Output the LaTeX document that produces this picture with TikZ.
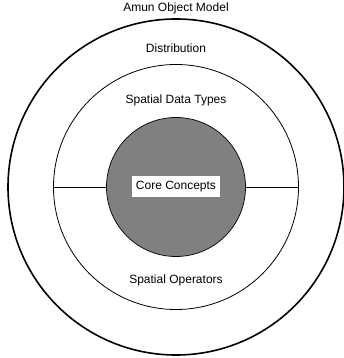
\documentclass[tikz,border=0pt]{standalone}
\usepackage{fontspec}
\setmainfont{Liberation Sans}
\begin{document}
\begin{tikzpicture}[x=1pt, y=1pt, font=\fontsize{12}{14}\selectfont]
    \useasboundingbox (0,0) rectangle (344,358);
    \coordinate (c) at (176,171);
    \draw[line width=1.6pt] (c) circle [radius=168];
    \draw[line width=0.8pt] (c) circle [radius=122.5];
    \draw[line width=0.7pt, fill=gray] (c) circle [radius=69.5];
    \draw[line width=0.8pt] (53.5,171) -- (106.5,171);
    \draw[line width=0.8pt] (245.5,171) -- (298.5,171);
    \node (model) at (176,350) {Amun Object Model};
    \node (dist) at (176,310) {Distribution};
    \node (types) at (176,258) {Spatial Data Types};
    \node[fill=white, inner xsep=4pt, minimum height=21pt] (core) at (c) {Core Concepts};
    \node (ops) at (176,78) {Spatial Operators};
\end{tikzpicture}
\end{document}
